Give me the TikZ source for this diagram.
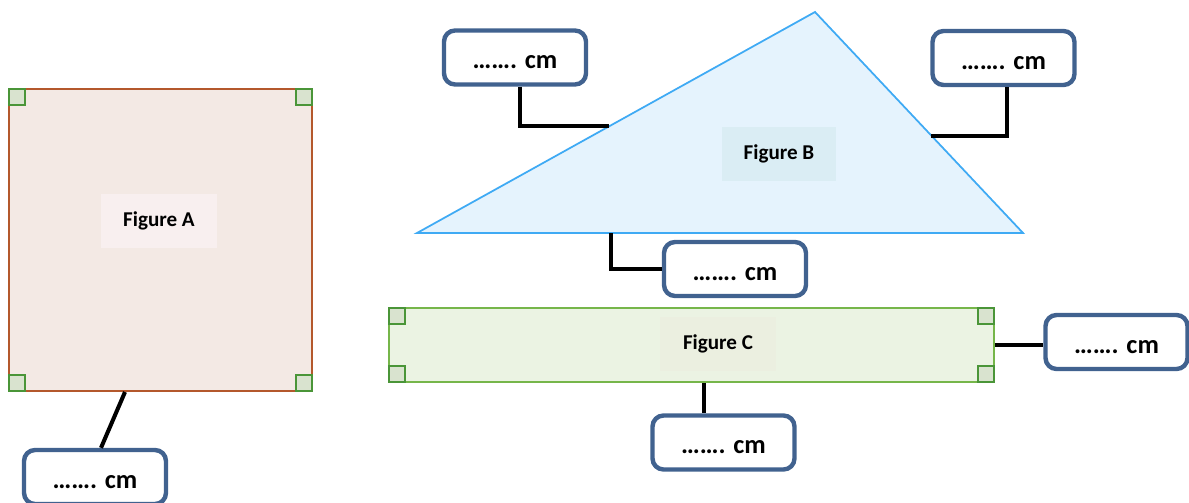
\documentclass[tikz,border=0pt]{standalone}
\usepackage{fontspec}
\setmainfont{Carlito}
\usepackage{tikz}
\usetikzlibrary{positioning,calc}
\definecolor{boxblue}{HTML}{41628F}
\definecolor{sqline}{HTML}{B4582C}
\definecolor{sqfill}{HTML}{F3E9E4}
\definecolor{sqlab}{HTML}{F8EFEF}
\definecolor{triline}{HTML}{3FAAF4}
\definecolor{trifill}{HTML}{E5F3FD}
\definecolor{trilab}{HTML}{DAEDF4}
\definecolor{recline}{HTML}{76B64A}
\definecolor{recfill}{HTML}{EBF3E3}
\definecolor{reclab}{HTML}{EBEFE0}
\definecolor{angline}{HTML}{4A9538}
\definecolor{angfill}{HTML}{D9E3CF}
\tikzset{
  callout/.style={draw=boxblue,line width=2.5pt,rounded corners=2.2mm,fill=white,
    minimum width=2.84cm,minimum height=1.08cm,inner sep=0pt,
    text height=13pt,text depth=0pt,
    font=\fontsize{15}{18}\selectfont\bfseries},
  figlabel/.style args={#1,#2}{fill=#1,minimum width=#2 cm,minimum height=1.08cm,
    inner sep=0pt,font=\fontsize{12}{14}\selectfont\bfseries},
  leader/.style={line width=2.3pt,black},
  rightangle/.style={draw=angline,fill=angfill,line width=0.9pt,
    minimum size=0.32cm,inner sep=0pt}
}
\begin{document}
\begin{tikzpicture}[x=0.02cm,y=-0.02cm]
  \useasboundingbox (0,0) rectangle (1189,503);

  % Figure A
  \node [draw=sqline,fill=sqfill,line width=1pt,minimum width=6.06cm,minimum height=6.04cm] (figA) at (160.5,240) {};
  \node [rightangle,anchor=north west] at (figA.north west) {};
  \node [rightangle,anchor=north east] at (figA.north east) {};
  \node [rightangle,anchor=south west] at (figA.south west) {};
  \node [rightangle,anchor=south east] at (figA.south east) {};
  \node [figlabel={sqlab,2.32}] (labA) at (159,221) {Figure A};
  \node [callout] (ca) at (95,477) {……. cm};
  \coordinate (eA) at (125,392);
  \draw[leader] (eA) -- ([xshift=0.12cm]ca.north);

  % Figure B
  \coordinate (b1) at (417,233);
  \coordinate (b2) at (815,12);
  \coordinate (b3) at (1023,233);
  \draw [draw=triline,fill=trifill,line width=1pt] (b1) -- (b2) -- (b3) -- cycle;
  \node [figlabel={trilab,2.28}] (labB) at (779,154) {Figure B};
  \node [callout] (tl) at (515,57.5) {……. cm};
  \node [callout] (tr) at (1003.5,58) {……. cm};
  \node [callout] (bb) at (735,269) {……. cm};
  \coordinate (eB1) at ($(b1)!0.482!(b2)$);
  \coordinate (eB2) at ($(b2)!0.56!(b3)$);
  \coordinate (eB3) at (611,233);
  \draw[leader] ([xshift=0.1cm]tl.south) |- (eB1);
  \draw[leader] ([xshift=0.07cm]tr.south) |- (eB2);
  \draw[leader] (eB3) |- (bb.west);

  % Figure C
  \node [draw=recline,fill=recfill,line width=1pt,minimum width=12.1cm,minimum height=1.48cm] (figC) at (691.5,345) {};
  \node [rightangle,anchor=north west] at (figC.north west) {};
  \node [rightangle,anchor=north east] at (figC.north east) {};
  \node [rightangle,anchor=south west] at (figC.south west) {};
  \node [rightangle,anchor=south east] at (figC.south east) {};
  \node [figlabel={reclab,2.32}] (labC) at (718,344) {Figure C};
  \node [callout] (cr) at (1116.5,342) {……. cm};
  \node [callout] (cb) at (723.5,442.5) {……. cm};
  \coordinate (eC) at (704,383);
  \draw[leader] (figC.east) -- (figC.east -| cr.west);
  \draw[leader] (eC) -- (eC |- cb.north);
\end{tikzpicture}
\end{document}
